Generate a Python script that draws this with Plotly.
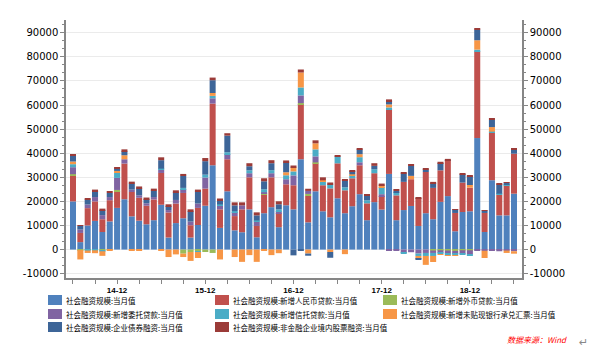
import plotly.graph_objects as go

# ---- categories (monthly, 2014-06 .. 2019-06) ----
months = []
for yr in range(2014, 2020):
    for mo in range(1, 13):
        if (yr == 2014 and mo < 6) or (yr == 2019 and mo > 6):
            continue
        months.append(f"{yr}-{mo:02d}")

# ---- series values (亿元) ----
tsf = [20000, 3100, 10000, 11900, 7300, 11700, 17300,
       20900, 13800, 12000, 10500, 12200, 18600, 5000, 11000, 13000, 5000, 10200, 18200,
       35000, 9000, 24200, 8000, 7200, 16700, 5100, 15100, 17600, 9300, 18400, 16700,
       37500, 11300, 24200, 15900, 13400, 21300, 15100, 18000, 23000, 12200, 19700, 16600,
       31400, 12200, 16400, 18100, 9800, 15100, 12600, 19800, 22200, 7600, 15600, 15900,
       46300, 7300, 28800, 14200, 14200, 23200]
rmb_loans = [10800, 3800, 7200, 8100, 5300, 8800, 6900,
             14800, 10100, 9500, 7700, 8600, 13200, 10400, 8100, 10500, 5100, 7100, 7100,
             25600, 7700, 13300, 5900, 9500, 13300, 4700, 7800, 12400, 5800, 8700, 10000,
             22900, 11000, 11600, 10800, 12000, 14500, 9500, 11600, 12000, 7000, 12000, 5600,
             26800, 10300, 11700, 11100, 11600, 17100, 13000, 13100, 14600, 7600, 12200, 9800,
             36000, 7900, 19600, 8600, 12200, 16600]
fx_loans = [500, -200, -100, -100, -300, -100, 550,
            0, 0, 0, 0, 0, 0, 0, 0, -1700, -1000, -600, -1000,
            -1400, 0, 0, 0, 0, 0, 0, 400, 0, 0, 0, 0,
            400, 800, 400, 0, 0, 0, 0, 0, 0, 0, 0, 0,
            0, 0, 0, 0, 0, 0, -400, -300, -400, -550, -300, -300,
            0, 0, 0, 0, 400, 0]
entrusted = [2900, 1400, 1500, 1800, 1700, 1300, 5000,
             1800, 1000, 1000, 1000, 1000, 1400, 1000, 1500, 1600, 1500, 1800, 4600,
             2200, 1650, 2100, 1650, 1650, 1700, 1900, 500, 1700, 800, 2100, 4100,
             3200, 1250, 2500, 0, 0, 0, 0, 0, 1250, 0, 0, 800,
             -300, -550, -1400, -1100, -1650, -1400, -1000, -1000, -1250, -1250, -1400, -1650,
             -300, -500, -550, -700, -400, -700]
trust = [1250, 0, -300, -200, -400, 0, 2100,
         0, 0, 0, 0, 0, 400, 0, 0, 500, 0, -400, 1200,
         1000, 400, 800, 400, 0, 1200, 400, 1250, 1250, 800, 1650, 1650,
         3300, 0, 2900, 1650, 1650, 2900, 1250, 1250, 2100, 1250, 1650, 2900,
         800, 1250, -400, 0, -1000, -1250, -1250, -550, -700, -550, -400, -400,
         700, 0, 550, 400, 400, 0]
bank_accept = [1100, -3900, -1000, -1200, -1900, -500, 800,
               1650, -400, -600, 0, 0, -600, -3100, -2000, -1400, -3700, -2500, 0,
               1200, -4100, 0, -3100, -5100, -2300, -5100, -300, -2300, -1500, 1250, 1650,
               6200, -1650, 2500, 400, -1000, 0, -1900, 400, 1250, 0, 0, 800,
               1250, 0, 0, 1400, -1250, -3700, -2500, -400, -300, -300, 0, 1100,
               3900, -3000, 1900, 0, -1000, -1000]
corp_bonds = [2600, 1500, 2100, 2500, 2100, 1700, 1000,
              1650, 2500, 2900, 1700, 2700, 3500, 1600, 3200, 5000, 4300, 5000, 5600,
              5300, 1650, 6900, 2400, 0, 1700, 2100, 3300, 2900, 2100, 4100, -2400,
              -400, -900, 0, 0, -2400, 0, 2900, 1250, 2000, 1800, 1400, 0,
              1400, 600, 3500, 4100, -300, 1100, 1950, 3000, 300, 1500, 3500, 3700,
              4400, 1000, 3100, 3900, 600, 1650]
equity = [400, 300, 400, 600, 600, 700, 550,
          800, 800, 800, 700, 800, 1200, 800, 800, 800, 800, 800, 1300,
          1100, 800, 1000, 1250, 1250, 1250, 1250, 1250, 1250, 1250, 800, 800,
          1250, 900, 1250, 1250, 800, 400, 400, 400, 400, 800, 1100, 700,
          700, 400, 550, 700, 400, 550, 550, 550, 550, 100, 300, 300,
          550, 100, 550, 400, 200, 400]

series_names = ["社会融资规模:当月值",
                "社会融资规模:新增人民币贷款:当月值",
                "社会融资规模:新增外币贷款:当月值",
                "社会融资规模:新增委托贷款:当月值",
                "社会融资规模:新增信托贷款:当月值",
                "社会融资规模:新增未贴现银行承兑汇票:当月值",
                "社会融资规模:企业债券融资:当月值",
                "社会融资规模:非金融企业境内股票融资:当月值"]
series_vals = [tsf, rmb_loans, fx_loans, entrusted, trust, bank_accept, corp_bonds, equity]
colors = ["#4F81BD", "#C0504D", "#9BBB59", "#8064A2", "#4BACC6", "#F79646", "#3D6598", "#9B3B38"]

y_ticks = [-10000, 0, 10000, 20000, 30000, 40000, 50000, 60000, 70000, 80000, 90000]
y_range = [-11800, 95300]

# x ticks: every quarter, labelled at December
tick_months = [m for m in months if m[5:] in ("03", "06", "09", "12")]
tick_text = [(m[2:4] + "-12") if m[5:] == "12" else "" for m in tick_months]

fig = go.Figure()
for name, vals, col in zip(series_names, series_vals, colors):
    fig.add_trace(go.Bar(x=months, y=vals, name=name, marker=dict(color=col, line=dict(width=0)),
                         showlegend=False))
# invisible companion trace so the mirrored right-hand value axis is drawn
fig.add_trace(go.Scatter(x=months, y=tsf, yaxis="y2", mode="lines", opacity=0,
                         line=dict(width=0), hoverinfo="skip", showlegend=False))

# page offset of the figure inside the html body (default 8px body margin)
OFF = 8
W, H = 606 - OFF, 360 - OFF
# plot area in page pixels: x 66..522, y 20..278
PL, PR, PT, PB = 66, 522, 20, 278
L, R, T, B = PL - OFF, W - (PR - OFF), PT - OFF, H - (PB - OFF)
pw, ph = PR - PL, PB - PT

def px(x):
    return (x - PL) / pw

def py(y):
    return (PB - y) / ph

axis_font = dict(family="DejaVu Sans", size=10, color="#000000")
common_y = dict(range=y_range, tickmode="array", tickvals=y_ticks,
                ticktext=[str(v) for v in y_ticks], ticks="outside", ticklen=4,
                tickcolor="#868686", showline=True, linecolor="#868686", linewidth=1.5,
                zeroline=False, tickfont=axis_font, automargin=False,
                minor=dict(dtick=10000 / 3, tick0=0, ticks="outside", ticklen=2,
                           tickcolor="#868686", showgrid=False))
fig.update_layout(
    template="none",
    width=W, height=H, autosize=False,
    margin=dict(l=L, r=R, t=T, b=B, pad=0),
    paper_bgcolor="white", plot_bgcolor="white",
    barmode="relative", bargap=0.18,
    font=dict(family="DejaVu Sans", size=10, color="#000"),
    hovermode="x",
    xaxis=dict(type="category", range=[-0.95, 61.09], tickmode="array",
               tickvals=tick_months, ticktext=tick_text, ticks="outside", ticklen=4,
               tickcolor="#868686", showline=True, linecolor="#868686", linewidth=1.5,
               showgrid=False, tickangle=0, automargin=False, zeroline=False,
               tickfont=dict(family="Liberation Sans", size=8, color="#000", weight="bold")),
    yaxis=dict(showgrid=True, gridcolor="#EBEBEB", gridwidth=1, **common_y),
    yaxis2=dict(overlaying="y", side="right", anchor="x", showgrid=False, **common_y),
)

# manual legend (3 columns)
col_x = [48, 215, 383]
row_y = [300, 314, 327]
shapes = []
annotations = []
for i, (name, col) in enumerate(zip(series_names, colors)):
    r, c = divmod(i, 3)
    x0, yc = col_x[c], row_y[r]
    shapes.append(dict(type="rect", xref="paper", yref="paper",
                       x0=px(x0), x1=px(x0 + 14), y0=py(yc + 5), y1=py(yc - 5),
                       fillcolor=col, line=dict(width=0)))
    annotations.append(dict(xref="paper", yref="paper", x=px(x0 + 16), y=py(yc),
                            xanchor="left", yanchor="middle", showarrow=False, text=name,
                            font=dict(family="Noto Sans CJK SC", size=7.5, color="#000")))

annotations.append(dict(xref="paper", yref="paper", x=px(537), y=py(339), xanchor="center",
                        yanchor="middle", showarrow=False, text="<i>数据来源：Wind</i>",
                        font=dict(family="Noto Sans CJK SC", size=8, color="#FF0000")))
annotations.append(dict(xref="paper", yref="paper", x=px(583), y=py(342), xanchor="center",
                        yanchor="middle", showarrow=False, text="↵",
                        font=dict(family="DejaVu Sans", size=11, color="#888888")))
fig.update_layout(shapes=shapes, annotations=annotations)

fig.write_html("out.html")
